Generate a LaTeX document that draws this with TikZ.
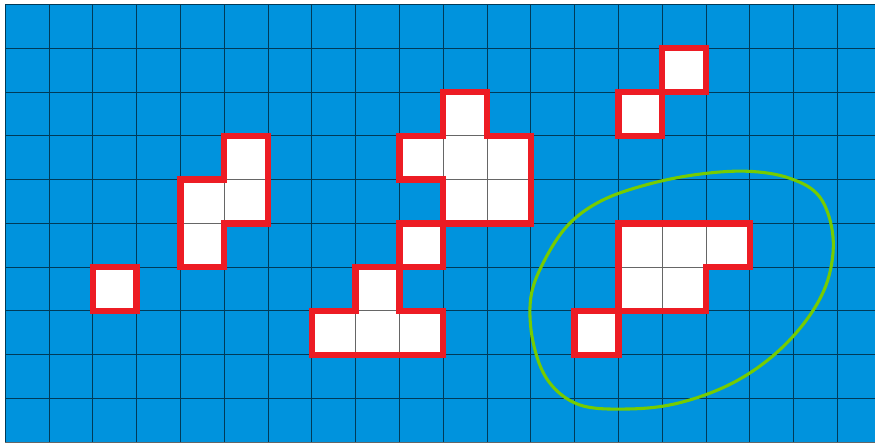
\documentclass[tikz,border=0pt]{standalone}
\usepackage{tikz}

\definecolor{seablue}{RGB}{0,147,221}
\definecolor{blobred}{RGB}{237,28,36}
\definecolor{lassogreen}{RGB}{118,204,0}

\begin{document}
\begin{tikzpicture}[
      gridline/.style={draw=black, opacity=0.6, line width=0.6pt},
      land/.style={fill=white},
      blob/.style={draw=blobred, line width=0.145cm, line join=miter},
      lasso/.style={draw=lassogreen, line width=2pt}
    ]
    \useasboundingbox (-0.12,-0.02) rectangle (19.86,10.1);

    % --- Sea and land cells (column, row counted from the top) -------------
    \fill[seablue] (0,0) rectangle (19.86,10);
    \foreach \c/\r in {2/6,
                       5/3, 4/4, 5/4, 4/5,
                       10/2, 9/3, 10/3, 11/3, 10/4, 11/4,
                       9/5,
                       8/6, 7/7, 8/7, 9/7,
                       15/1, 14/2,
                       14/5, 15/5, 16/5, 14/6, 15/6,
                       13/7}
      \fill[land] (\c,9-\r) rectangle ++(1,1);

    % Grid over everything: dark on the sea, grey on the land.
    \draw[gridline]
      \foreach \i in {0,...,19} {(\i,0) -- (\i,10)}
      \foreach \j in {0,...,10} {(0,\j) -- (19.86,\j)};

    % --- Outlines of the connected pieces ----------------------------------
    \draw[blob] (2,3) rectangle (3,4);
    \draw[blob] (5,7) -- (6,7) -- (6,5) -- (5,5) -- (5,4) -- (4,4)
      -- (4,6) -- (5,6) -- cycle;
    \draw[blob] (10,8) -- (11,8) -- (11,7) -- (12,7) -- (12,5) -- (10,5)
      -- (10,6) -- (9,6) -- (9,7) -- (10,7) -- cycle;
    \draw[blob] (9,4) rectangle (10,5);
    \draw[blob] (8,4) -- (9,4) -- (9,3) -- (10,3) -- (10,2) -- (7,2)
      -- (7,3) -- (8,3) -- cycle;
    \draw[blob] (15,8) rectangle (16,9);
    \draw[blob] (14,7) rectangle (15,8);
    \draw[blob] (14,5) -- (17,5) -- (17,4) -- (16,4) -- (16,3) -- (14,3)
      -- cycle;
    \draw[blob] (13,2) rectangle (14,3);

    % Hand-drawn loop round the lower right group.
    \draw[lasso] plot[smooth cycle, tension=0.6] coordinates {
      (16.93,6.19) (17.91,6.03) (18.60,5.60) (18.90,4.70) (18.78,3.70)
      (18.30,2.80) (17.50,1.95) (16.50,1.30) (15.30,0.88) (14.15,0.76)
      (13.10,0.86) (12.40,1.40) (12.05,2.30) (12.00,3.30) (12.30,4.13)
      (12.85,4.96) (13.60,5.51) (14.60,5.87) (15.75,6.11)};
  \end{tikzpicture}
\end{document}
